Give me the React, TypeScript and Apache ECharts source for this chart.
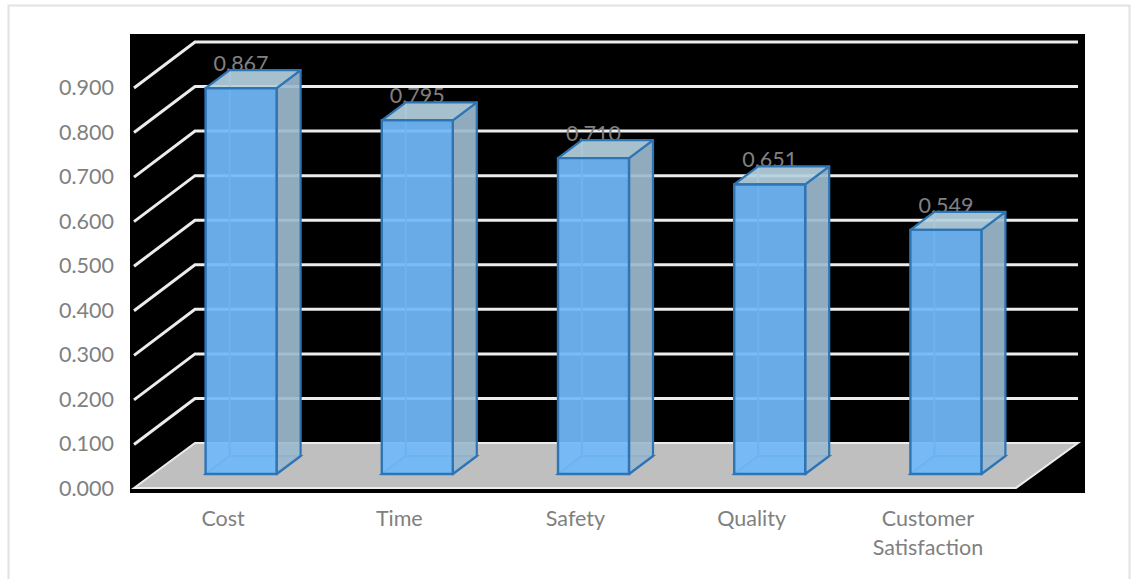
import React, { useEffect, useRef } from "react";
import * as echarts from "echarts";

const categories = ["Cost", "Time", "Safety", "Quality", "Customer\nSatisfaction"];
const values = [0.867, 0.795, 0.71, 0.651, 0.549];
const labels = ["0.867", "0.795", "0.710", "0.651", "0.549"];
const gridTicks = [0.1, 0.2, 0.3, 0.4, 0.5, 0.6, 0.7, 0.8, 0.9];

const DEPTH_X = 61;
const DEPTH_Y = 45;
const BAR_W = 71;
const BAR_DX = 18;
const BAR_DY = 14;
const BOX_X = 24;
const BOX_Y = 18;
const EDGE = "#2e75b6";
const FONT = "Lato";
const TEXT = "#808080";

export default function App() {
  const ref = useRef<HTMLDivElement>(null);
  useEffect(() => {
    const chart = echarts.init(ref.current!, undefined, { renderer: "svg" });
    const gridLeft = 135;
    const gridTop = 87;
    const gridW = 881;
    const gridH = 401;
    chart.setOption({
      animation: false,
      backgroundColor: "#ffffff",
      graphic: [
        { type: "rect", z: -10, shape: { x: 8.5, y: 5.5, width: 1121, height: 600 }, style: { fill: "#fff", stroke: "#e2e2e2", lineWidth: 2 } },
        { type: "rect", z: -9, shape: { x: 130, y: 34, width: 955, height: 459 }, style: { fill: "#000" } },
      ],
      grid: { left: gridLeft, top: gridTop, width: gridW, height: gridH },
      xAxis: {
        type: "category",
        data: categories,
        axisLine: { show: false },
        axisTick: { show: false },
        axisLabel: { color: TEXT, fontFamily: FONT, fontSize: 21.5, margin: 15, lineHeight: 29, interval: 0 },
      },
      yAxis: {
        type: "value",
        min: 0,
        max: 0.9,
        interval: 0.1,
        axisLine: { show: false },
        axisTick: { show: false },
        splitLine: { show: false },
        axisLabel: { color: TEXT, fontFamily: FONT, fontSize: 21.5, margin: 21, formatter: (v: number) => v.toFixed(3) },
      },
      series: [
        {
          type: "custom",
          z: 1,
          silent: true,
          clip: false,
          data: gridTicks.map((t) => [0, t]),
          encode: { y: 1 },
          renderItem: (params: any, api: any) => {
            const y = api.coord([0, api.value(1)])[1];
            const cs = params.coordSys;
            return {
              type: "polyline",
              shape: {
                points: [
                  [cs.x - 1, y + 1],
                  [cs.x - 1 + DEPTH_X, y - DEPTH_Y],
                  [cs.x + cs.width + 62, y - DEPTH_Y],
                ],
              },
              style: { stroke: "#ececec", lineWidth: 3, fill: "none" },
            };
          },
        },
        {
          type: "custom",
          z: 1,
          silent: true,
          clip: false,
          data: [[0, 0]],
          encode: { y: 1 },
          renderItem: (params: any, api: any) => {
            const y = api.coord([0, 0])[1];
            const cs = params.coordSys;
            return {
              type: "polygon",
              shape: {
                points: [
                  [cs.x - 1, y],
                  [cs.x - 1 + DEPTH_X, y - DEPTH_Y],
                  [cs.x + cs.width + 62, y - DEPTH_Y],
                  [cs.x + cs.width, y],
                ],
              },
              style: { fill: "#bfbfbf", stroke: "#ececec", lineWidth: 2 },
            };
          },
        },
        {
          type: "custom",
          z: 3,
          silent: true,
          clip: false,
          data: values.map((v, i) => [i, v]),
          encode: { x: 0, y: 1 },
          renderItem: (params: any, api: any) => {
            const idx = params.dataIndex;
            const p = api.coord([api.value(0), api.value(1)]);
            const base = api.coord([api.value(0), 0]);
            const x0 = p[0] + BAR_DX - BAR_W / 2;
            const x1 = x0 + BAR_W;
            const yt = p[1] - BAR_DY + 0.5;
            const yb = base[1] - BAR_DY;
            const bx0 = x0 + BOX_X;
            const bx1 = x1 + BOX_X;
            const byt = yt - BOX_Y;
            const byb = yb - BOX_Y;
            return {
              type: "group",
              children: [
                {
                  type: "text",
                  style: {
                    text: labels[idx],
                    x: p[0] + BAR_DX,
                    y: yt - 25,
                    align: "center",
                    verticalAlign: "middle",
                    fill: TEXT,
                    fontFamily: FONT,
                    fontSize: 21.5,
                  },
                },
                {
                  type: "polygon",
                  shape: { points: [[x0, yb], [x1, yb], [bx1, byb], [bx0, byb]] },
                  style: { fill: "rgba(90,140,190,0.2)", stroke: EDGE, lineWidth: 2 },
                },
                {
                  type: "line",
                  shape: { x1: bx0, y1: byt, x2: bx0, y2: byb },
                  style: { stroke: EDGE, lineWidth: 2 },
                },
                {
                  type: "polygon",
                  shape: { points: [[x1, yt], [bx1, byt], [bx1, byb], [x1, yb]] },
                  style: { fill: "rgba(156,184,206,0.92)", stroke: EDGE, lineWidth: 2.2, lineJoin: "round" },
                },
                {
                  type: "polygon",
                  shape: { points: [[x0, yt], [bx0, byt], [bx1, byt], [x1, yt]] },
                  style: { fill: "rgba(180,208,222,0.92)", stroke: EDGE, lineWidth: 2.2, lineJoin: "round" },
                },
                {
                  type: "rect",
                  shape: { x: x0, y: yt, width: BAR_W, height: yb - yt },
                  style: { fill: "rgba(112,184,248,0.93)", stroke: EDGE, lineWidth: 2.4 },
                },
              ],
            };
          },
        },
      ],
    });
    return () => chart.dispose();
  }, []);
  return <div ref={ref} style={{ position: "fixed", left: 0, top: 0, width: 1133, height: 579 }} />;
}
